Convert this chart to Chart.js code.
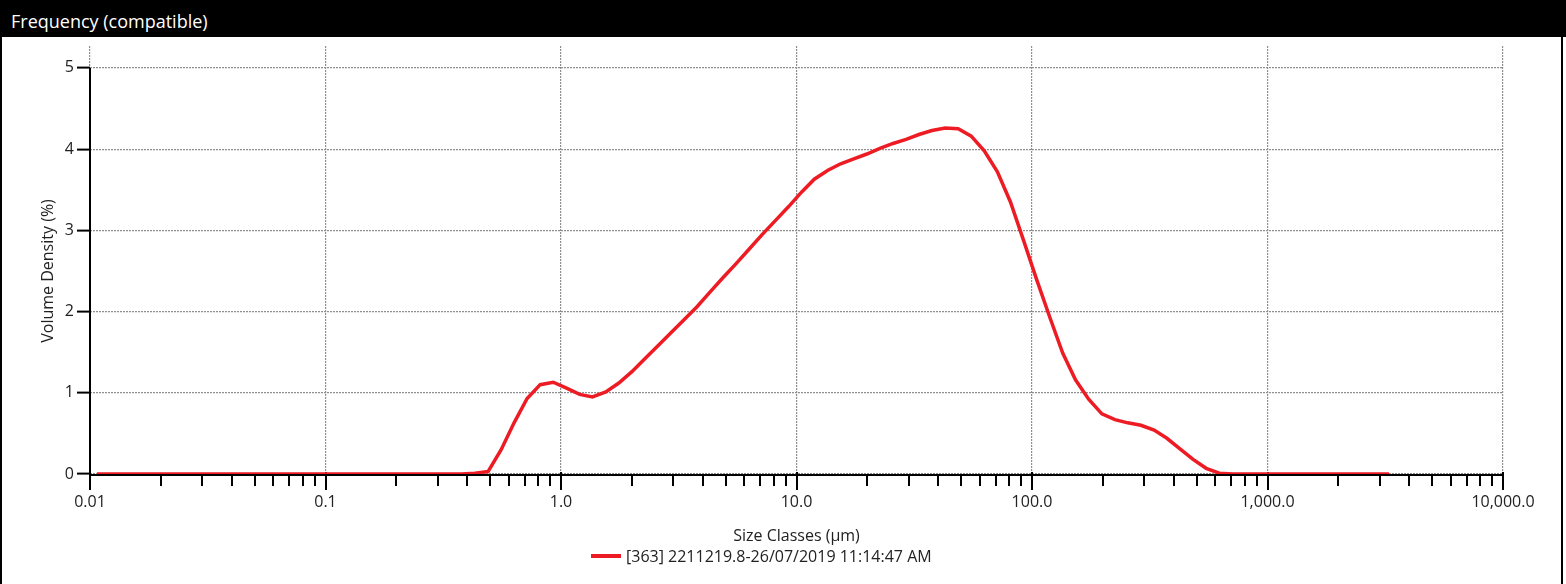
<!DOCTYPE html>
<html lang="en">
<head>
    <meta charset="UTF-8">
    <title>Frequency (compatible)</title>
    <style>
        body { margin: 0; background: #fff; font-family: "Open Sans", sans-serif; }
        #titleBar { position: absolute; left: 0; top: 0; width: 1566px; height: 37px; background: #000; color: #fff;
                    font-size: 18px; line-height: 42px; padding-left: 11px; box-sizing: border-box; overflow: hidden; z-index: 2; }
        #wrap { position: absolute; left: 0; top: 0; width: 1566px; height: 584px; }
        .edge { position: absolute; top: 37px; width: 2px; height: 547px; background: #000; z-index: 2; }
        #legend { position: absolute; left: 591px; top: 545px; height: 22px; display: flex; align-items: center;
                  font-size: 16px; color: #222; z-index: 2; }
        #legend .swatch { width: 30px; height: 4px; margin-right: 5px; }
    </style>
</head>
<body>
    <div id="titleBar">Frequency (compatible)</div>
    <div class="edge" style="left:0"></div>
    <div class="edge" style="left:1561px"></div>
    <div id="wrap"><canvas id="myChart"></canvas></div>
    <div id="legend"></div>

    <script src="https://cdn.jsdelivr.net/npm/chart.js"></script>
    <script>
        // size classes (um), geometric mid points of the 100 instrument classes
        const sizes = [
            0.0107, 0.0121, 0.0138, 0.0156, 0.0178, 0.0202, 0.0229, 0.0260, 0.0296, 0.0336,
            0.0382, 0.0434, 0.0493, 0.0560, 0.0636, 0.0723, 0.0821, 0.0933, 0.106, 0.120,
            0.137, 0.155, 0.176, 0.200, 0.228, 0.259, 0.294, 0.334, 0.379, 0.431,
            0.490, 0.557, 0.632, 0.718, 0.816, 0.927, 1.05, 1.20, 1.36, 1.55,
            1.76, 2.00, 2.27, 2.58, 2.93, 3.33, 3.78, 4.29, 4.88, 5.54,
            6.30, 7.16, 8.13, 9.24, 10.5, 11.9, 13.6, 15.4, 17.5, 19.9,
            22.6, 25.7, 29.2, 33.1, 37.6, 42.8, 48.6, 55.2, 62.7, 71.3,
            81.0, 92.0, 104.5, 119, 135, 153, 174, 198, 225, 255,
            290, 330, 374, 425, 483, 549, 624, 709, 805, 915,
            1040, 1180, 1340, 1520, 1730, 1970, 2240, 2540, 2890, 3280
        ];
        // volume density (%)
        const density = [
            0, 0, 0, 0, 0, 0, 0, 0, 0, 0,
            0, 0, 0, 0, 0, 0, 0, 0, 0, 0,
            0, 0, 0, 0, 0, 0, 0, 0, 0, 0.01,
            0.03, 0.30, 0.63, 0.93, 1.10, 1.13, 1.06, 0.98, 0.95, 1.01,
            1.12, 1.26, 1.42, 1.58, 1.74, 1.90, 2.06, 2.24, 2.42, 2.59,
            2.77, 2.95, 3.12, 3.29, 3.47, 3.63, 3.74, 3.82, 3.88, 3.94,
            4.01, 4.07, 4.12, 4.18, 4.23, 4.26, 4.25, 4.16, 3.98, 3.72,
            3.35, 2.88, 2.40, 1.93, 1.49, 1.16, 0.92, 0.74, 0.67, 0.63,
            0.60, 0.54, 0.44, 0.31, 0.18, 0.07, 0.01, 0, 0, 0,
            0, 0, 0, 0, 0, 0, 0, 0, 0, 0
        ];
        const seriesName = '[363] 2211219.8-26/07/2019 11:14:47 AM';

        const xTickValues = [0.01, 0.1, 1, 10, 100, 1000, 10000];
        const xTickLabels = ['0.01', '0.1', '1.0', '10.0', '100.0', '1,000.0', '10,000.0'];
        const yTickValues = [0, 1, 2, 3, 4, 5];

        const FONT = '"Open Sans", sans-serif';
        const RED = '#ED1C24';
        const GRID = '#8f8f8f';

        // black axis lines + log tick marks (drawn under the curve), y title
        const axisPlugin = {
            id: 'axisLines',
            beforeDatasetsDraw(chart) {
                const ctx = chart.ctx;
                const xs = chart.scales.x, ys = chart.scales.y;
                const x0 = xs.getPixelForValue(xTickValues[0]);
                const x1 = xs.getPixelForValue(xTickValues[xTickValues.length - 1]);
                const yb = ys.getPixelForValue(0);
                const yt = ys.getPixelForValue(yTickValues[yTickValues.length - 1]);
                ctx.save();
                ctx.strokeStyle = '#000';
                ctx.lineWidth = 2;
                ctx.beginPath();
                ctx.moveTo(x0, yt); ctx.lineTo(x0, yb + 1);
                ctx.moveTo(x0, yb + 1); ctx.lineTo(x1, yb + 1);
                ctx.stroke();
                xTickValues.forEach(function (d, i) {
                    const px = Math.round(xs.getPixelForValue(d));
                    ctx.beginPath();
                    ctx.moveTo(px, yb - 2); ctx.lineTo(px, yb + 16);
                    ctx.stroke();
                    if (i === xTickValues.length - 1) return;
                    for (let m = 2; m <= 9; m++) {
                        const pm = Math.round(xs.getPixelForValue(d * m));
                        ctx.beginPath();
                        ctx.moveTo(pm, yb + 2); ctx.lineTo(pm, yb + 12);
                        ctx.stroke();
                    }
                });
                ctx.restore();
            },
            afterDraw(chart) {
                const ctx = chart.ctx, ys = chart.scales.y;
                const mid = (ys.getPixelForValue(0) + ys.getPixelForValue(5)) / 2;
                ctx.save();
                ctx.translate(48, mid);
                ctx.rotate(-Math.PI / 2);
                ctx.font = '16px ' + FONT;
                ctx.fillStyle = '#222';
                ctx.textAlign = 'center';
                ctx.textBaseline = 'middle';
                ctx.fillText('Volume Density (%)', 0, 0);
                ctx.restore();
            }
        };

        const ctx = document.querySelector('#myChart');
        const myChart = new Chart(ctx, {
            type: 'line',
            data: {
                labels: sizes,
                datasets: [{
                    label: seriesName,
                    data: sizes.map((s, i) => ({ x: s, y: density[i] })),
                    borderColor: RED,
                    backgroundColor: RED,
                    borderWidth: 3.5,
                    pointRadius: 0,
                    tension: 0,
                    fill: false
                }]
            },
            options: {
                responsive: true,
                maintainAspectRatio: false,
                animation: false,
                devicePixelRatio: 1,
                layout: { padding: { top: 46, right: 63, left: 0, bottom: 0 } },
                plugins: { legend: { display: false }, tooltip: { enabled: false } },
                scales: {
                    x: {
                        type: 'logarithmic',
                        min: 0.01,
                        max: 10000,
                        afterFit(s) { s.height = 110; },
                        afterBuildTicks(s) { s.ticks = xTickValues.map(v => ({ value: v })); },
                        ticks: {
                            autoSkip: false, maxRotation: 0, padding: 19, color: '#222',
                            font: { family: FONT, size: 16 },
                            callback: (v, i) => xTickLabels[i]
                        },
                        grid: { color: GRID, lineWidth: 1.2, drawTicks: false },
                        border: { display: false, dash: [2, 1] },
                        title: {
                            display: true, text: 'Size Classes (µm)', color: '#222',
                            font: { family: FONT, size: 16 }, padding: { top: 0, bottom: 38 }
                        }
                    },
                    y: {
                        min: 0,
                        max: 5.27,
                        afterFit(s) { s.width = 90; },
                        afterBuildTicks(s) { s.ticks = yTickValues.map(v => ({ value: v })); },
                        ticks: { padding: 3, color: '#222', font: { family: FONT, size: 16 } },
                        grid: { color: GRID, lineWidth: 1.2, tickColor: '#000', tickLength: 13, tickWidth: 2 },
                        border: { display: false, dash: [2, 1] }
                    }
                }
            },
            plugins: [axisPlugin]
        });

        // legend built from the dataset
        const ds = myChart.data.datasets[0];
        document.querySelector('#legend').innerHTML =
            '<span class="swatch" style="background:' + ds.borderColor + '"></span><span>' + ds.label + '</span>';
    </script>
</body>
</html>
